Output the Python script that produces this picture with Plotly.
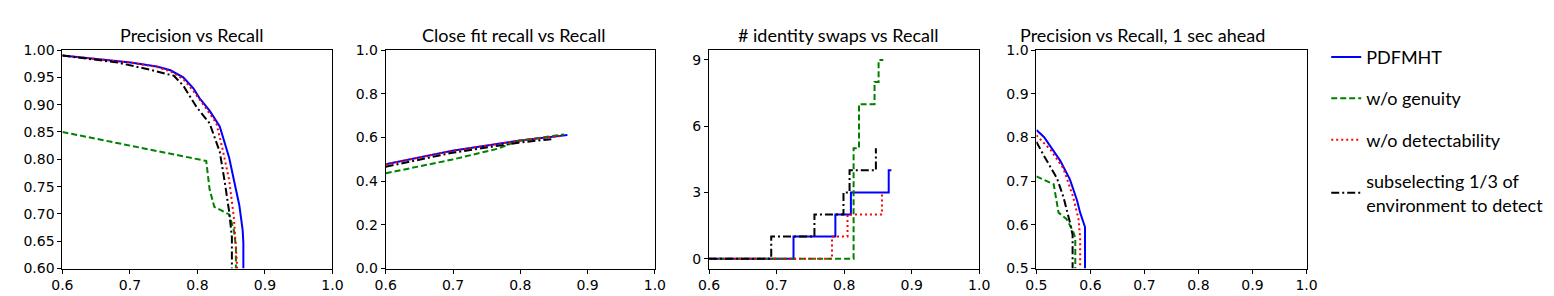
import plotly.graph_objects as go

# ---------------- data ----------------
series_names = ["PDFMHT", "w/o genuity", "w/o detectability",
                "subselecting 1/3 of<br>environment to detect"]

# Panel 1: Precision vs Recall
p1_blue_x = [0.6, 0.701, 0.740, 0.760, 0.779, 0.794, 0.803, 0.818, 0.833, 0.840, 0.847, 0.854, 0.862, 0.867, 0.868, 0.868]
p1_blue_y = [0.990, 0.977, 0.970, 0.963, 0.950, 0.930, 0.912, 0.889, 0.860, 0.831, 0.803, 0.762, 0.716, 0.670, 0.647, 0.600]
p1_green_x = [0.6, 0.813, 0.818, 0.825, 0.847, 0.854, 0.857, 0.857]
p1_green_y = [0.850, 0.797, 0.745, 0.713, 0.699, 0.670, 0.640, 0.600]
p1_red_x = [0.6, 0.701, 0.740, 0.760, 0.779, 0.794, 0.810, 0.828, 0.837, 0.847, 0.854, 0.857, 0.859]
p1_red_y = [0.990, 0.977, 0.969, 0.961, 0.947, 0.925, 0.898, 0.866, 0.820, 0.762, 0.693, 0.647, 0.600]
p1_black_x = [0.6, 0.682, 0.730, 0.765, 0.779, 0.799, 0.818, 0.833, 0.840, 0.847, 0.851, 0.851]
p1_black_y = [0.990, 0.977, 0.964, 0.953, 0.935, 0.895, 0.866, 0.814, 0.762, 0.704, 0.658, 0.600]

# Panel 2: Close fit recall vs Recall
p2_blue_x = [0.6, 0.699, 0.797, 0.870]
p2_blue_y = [0.477, 0.539, 0.585, 0.611]
p2_green_x = [0.6, 0.699, 0.767, 0.797, 0.865]
p2_green_y = [0.436, 0.499, 0.549, 0.585, 0.614]
p2_red_x = [0.6, 0.699, 0.797, 0.860]
p2_red_y = [0.477, 0.539, 0.585, 0.607]
p2_black_x = [0.6, 0.699, 0.797, 0.848]
p2_black_y = [0.466, 0.530, 0.576, 0.593]

# Panel 3: # identity swaps vs Recall (step curves)
p3_blue_x = [0.6, 0.725, 0.787, 0.810, 0.866, 0.870]
p3_blue_y = [0, 1, 2, 3, 4, 4]
p3_green_x = [0.6, 0.814, 0.822, 0.845, 0.851, 0.858]
p3_green_y = [0, 5, 7, 8, 9, 9]
p3_red_x = [0.6, 0.782, 0.805, 0.856]
p3_red_y = [0, 1, 2, 3]
p3_black_x = [0.6, 0.692, 0.756, 0.799, 0.808, 0.847]
p3_black_y = [0, 1, 2, 3, 4, 5]

# Panel 4: Precision vs Recall, 1 sec ahead
p4_blue_x = [0.5, 0.514, 0.544, 0.562, 0.575, 0.581, 0.590, 0.590]
p4_blue_y = [0.817, 0.801, 0.747, 0.704, 0.657, 0.628, 0.595, 0.500]
p4_green_x = [0.5, 0.532, 0.541, 0.556, 0.568, 0.572, 0.572]
p4_green_y = [0.711, 0.693, 0.628, 0.613, 0.585, 0.570, 0.500]
p4_red_x = [0.5, 0.526, 0.550, 0.568, 0.578, 0.581, 0.581]
p4_red_y = [0.805, 0.772, 0.729, 0.664, 0.613, 0.570, 0.500]
p4_black_x = [0.5, 0.514, 0.538, 0.550, 0.562, 0.567, 0.567]
p4_black_y = [0.790, 0.758, 0.707, 0.664, 0.606, 0.577, 0.500]

titles = ["Precision vs Recall", "Close fit recall vs Recall",
          "# identity swaps vs Recall", "Precision vs Recall, 1 sec ahead"]

p1_xticks = [0.6, 0.7, 0.8, 0.9, 1.0]
p1_yticks = [0.60, 0.65, 0.70, 0.75, 0.80, 0.85, 0.90, 0.95, 1.00]
p2_yticks = [0.0, 0.2, 0.4, 0.6, 0.8, 1.0]
p3_yticks = [0, 3, 6, 9]
p4_xticks = [0.5, 0.6, 0.7, 0.8, 0.9, 1.0]
p4_yticks = [0.5, 0.6, 0.7, 0.8, 0.9, 1.0]

# ---------------- styles ----------------
W, H = 1554, 296
styles = [
    dict(color="#0000ff", dash="solid", width=2),
    dict(color="#008000", dash="6px,3px", width=2),
    dict(color="#ff0000", dash="2px,3px", width=2),
    dict(color="#000000", dash="8px,3px,2px,3px", width=2),
]

panels = [
    [(p1_blue_x, p1_blue_y), (p1_green_x, p1_green_y), (p1_red_x, p1_red_y), (p1_black_x, p1_black_y)],
    [(p2_blue_x, p2_blue_y), (p2_green_x, p2_green_y), (p2_red_x, p2_red_y), (p2_black_x, p2_black_y)],
    [(p3_blue_x, p3_blue_y), (p3_green_x, p3_green_y), (p3_red_x, p3_red_y), (p3_black_x, p3_black_y)],
    [(p4_blue_x, p4_blue_y), (p4_green_x, p4_green_y), (p4_red_x, p4_red_y), (p4_black_x, p4_black_y)],
]

xpix = [(44, 318), (372, 645), (700, 974), (1032, 1306)]
ytop, ybot = 36, 267
ydom = [1 - ybot / H, 1 - ytop / H]

fig = go.Figure()
tick_font = dict(family="DejaVu Sans", size=14, color="black")

for pi, data in enumerate(panels):
    xa = "x" if pi == 0 else f"x{pi+1}"
    ya = "y" if pi == 0 else f"y{pi+1}"
    for si, (xs, ys) in enumerate(data):
        fig.add_trace(go.Scatter(
            x=xs, y=ys, mode="lines", xaxis=xa, yaxis=ya,
            line=dict(color=styles[si]["color"], dash=styles[si]["dash"],
                      width=styles[si]["width"],
                      shape="hv" if pi == 2 else "linear"),
            name=series_names[si], legendgroup=series_names[si],
            showlegend=(pi == 0), hoverinfo="skip"))

axis_common = dict(showline=True, linecolor="black", linewidth=1, mirror=True,
                   ticks="outside", ticklen=4, tickcolor="black", showgrid=False,
                   zeroline=False, tickfont=tick_font, tickmode="array")

xranges = [[0.6, 1.0], [0.6, 1.0], [0.6, 1.0], [0.5, 1.0]]
yranges = [[0.6, 1.0], [0.0, 1.0], [-0.45, 9.45], [0.5, 1.0]]
xtickvals = [p1_xticks, p1_xticks, p1_xticks, p4_xticks]
ytickvals = [p1_yticks, p2_yticks, p3_yticks, p4_yticks]
ytickfmt = [".2f", ".1f", "d", ".1f"]

layout = {}
for pi in range(4):
    xk = "xaxis" if pi == 0 else f"xaxis{pi+1}"
    yk = "yaxis" if pi == 0 else f"yaxis{pi+1}"
    xa = "x" if pi == 0 else f"x{pi+1}"
    ya = "y" if pi == 0 else f"y{pi+1}"
    layout[xk] = dict(axis_common, domain=[xpix[pi][0] / W, xpix[pi][1] / W],
                      range=xranges[pi], anchor=ya, tickvals=xtickvals[pi],
                      ticktext=[f"{v:.1f}" for v in xtickvals[pi]])
    layout[yk] = dict(axis_common, domain=ydom, range=yranges[pi], anchor=xa,
                      tickvals=ytickvals[pi],
                      ticktext=[format(v, ytickfmt[pi]) for v in ytickvals[pi]])

title_centers = [175, 502, 831, 1140]
annotations = [dict(text=t, xref="paper", yref="paper", x=c / W, y=1 - 20 / H,
                    xanchor="center", yanchor="middle", showarrow=False,
                    font=dict(family="Lato", size=18, color="black"))
               for t, c in zip(titles, title_centers)]

fig.update_layout(
    width=W, height=H, margin=dict(l=0, r=0, t=0, b=0),
    paper_bgcolor="white", plot_bgcolor="white",
    annotations=annotations,
    legend=dict(x=1326 / W, y=1 - 24 / H, xanchor="left", yanchor="top",
                font=dict(family="Lato", size=18, color="black"),
                tracegroupgap=15, itemwidth=30, bgcolor="rgba(0,0,0,0)"),
    **layout)

fig.write_html("out.html")
